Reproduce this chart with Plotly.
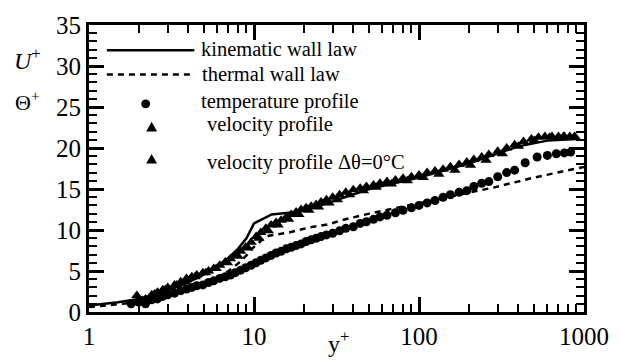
import plotly.graph_objects as go

# ---------------- data ----------------
kin_y = [1, 1.5, 2, 3, 4, 5, 6, 7, 8, 9, 10, 12.8, 20, 30, 50, 100, 200, 400, 600, 900]
kin_u = [0.8, 1.2, 1.6, 2.6, 3.6, 4.6, 5.6, 6.6, 7.7, 9.0, 10.8, 11.9, 12.3, 13.5, 15.0, 16.4, 18.1, 20.2, 20.9, 21.1]

th_y = [1, 2, 3, 4, 5, 6, 7, 8, 9, 9.7, 11.2, 12.3, 16.3, 21.5, 28.4, 34, 50, 100, 200, 286, 500, 823, 1000]
th_t = [0.6, 1.2, 2.0, 2.7, 3.4, 4.2, 5.0, 5.9, 6.9, 7.7, 8.8, 9.3, 9.7, 10.3, 10.7, 11.2, 12.0, 13.3, 14.6, 15.2, 16.4, 17.4, 17.7]

temp_y = [1.8, 2.0, 2.2, 2.4, 2.6, 2.8, 3.0, 3.3, 3.6, 3.9, 4.2, 4.5, 4.9, 5.3, 5.7, 6.2, 6.7,
          7.2, 7.7, 8.3, 8.9, 9.6, 10.3, 11.0, 11.8, 12.7, 13.6, 14.6, 15.7, 16.8, 18.0, 19.3,
          20.7, 22.2, 23.8, 25.5, 27.5, 30, 33, 36, 40, 44, 48, 53, 58, 64, 72, 80, 90, 100,
          112, 125, 140, 155, 175, 195, 215, 240, 265, 300, 340, 380, 440, 520, 600, 680, 760, 830]
temp_t = [1.0, 1.2, 1.0, 1.5, 1.6, 1.9, 2.1, 2.3, 2.6, 2.8, 3.0, 3.2, 3.3, 3.6, 3.8, 4.1, 4.3,
          4.5, 4.8, 5.1, 5.4, 5.7, 6.0, 6.3, 6.6, 6.9, 7.2, 7.4, 7.7, 7.9, 8.1, 8.3,
          8.6, 8.8, 9.0, 9.2, 9.4, 9.6, 9.9, 10.2, 10.4, 10.8, 11.0, 11.3, 11.6, 11.8, 12.1, 12.4, 12.7, 13.0,
          13.3, 13.6, 14.0, 14.3, 14.6, 14.8, 15.3, 15.7, 15.9, 16.5, 17.0, 17.3, 18.2, 18.9, 19.1, 19.3, 19.4, 19.5]

vel_y = [1.95, 2.0, 2.2, 2.4, 2.6, 2.8, 3.0, 3.3, 3.6, 3.9, 4.2, 4.5, 4.9, 5.3, 5.7, 6.2, 6.7,
         7.2, 7.7, 8.3, 8.9, 9.6, 10.3, 11.0, 11.8, 12.7, 13.6, 14.6, 15.7, 16.8, 18.0, 19.3,
         20.7, 22.2, 23.8, 25.5, 27.5, 30, 33, 36, 40, 44, 48, 53, 58, 64, 72, 80, 90, 100,
         112, 125, 140, 155, 175, 195, 215, 240, 265, 300, 340, 380, 430, 480, 530, 580, 640, 700, 760, 820, 870]
vel_u = [2.0, 1.3, 1.6, 2.1, 2.4, 2.7, 3.0, 3.3, 3.7, 4.1, 4.3, 4.5, 4.8, 5.0, 5.3, 5.7, 6.1,
         6.5, 6.9, 7.4, 7.9, 8.5, 9.2, 9.7, 10.2, 10.6, 10.9, 11.2, 11.6, 11.9, 12.2, 12.5,
         12.7, 12.9, 13.1, 13.4, 13.7, 14.0, 14.3, 14.6, 14.9, 15.1, 15.3, 15.5, 15.7, 15.9, 16.1, 16.3, 16.5, 16.7,
         17.0, 17.2, 17.4, 17.7, 18.0, 18.3, 18.6, 18.9, 19.2, 19.6, 20.0, 20.4, 20.8, 21.1, 21.3, 21.4, 21.4, 21.4, 21.4, 21.4, 21.3]

vel0_y = [2.1, 2.5, 2.9, 3.4, 3.8, 4.4, 5.1, 5.9, 6.9, 8.0, 9.2, 10.7, 12.2, 14.0, 16.2, 18.7,
          21.5, 24.6, 28.5, 32, 38, 46, 55, 68, 85, 106, 132, 165, 205, 255, 320, 400, 500, 620, 750, 880]
vel0_u = [1.4, 2.2, 2.7, 3.3, 3.7, 4.3, 4.8, 5.3, 6.0, 6.8, 7.8, 9.0, 9.9, 10.6, 11.3, 11.9,
          12.4, 12.8, 13.3, 13.7, 14.3, 14.8, 15.2, 15.6, 16.0, 16.4, 16.8, 17.3, 17.9, 18.5, 19.3, 20.2, 20.9, 21.3, 21.4, 21.4]

legend_labels = ["kinematic wall law", "thermal wall law", "temperature profile",
                 "velocity profile", "velocity profile \u0394\u03b8=0\u00b0C"]

# ---------------- layout helpers ----------------
W, H = 621, 362
L, R, T, B = 89, 587, 22, 317


def px(x):
    return (x - L) / (R - L)


def py(y):
    return (B - y) / (B - T)


FONT = "Liberation Serif"

fig = go.Figure()
fig.add_trace(go.Scatter(x=kin_y, y=kin_u, mode="lines", line=dict(color="black", width=2.5)))
fig.add_trace(go.Scatter(x=th_y, y=th_t, mode="lines",
                         line=dict(color="black", width=2.5, dash="6px,5px")))
fig.add_trace(go.Scatter(x=temp_y, y=temp_t, mode="markers",
                         marker=dict(symbol="circle", size=9, color="black")))
fig.add_trace(go.Scatter(x=vel_y, y=vel_u, mode="markers",
                         marker=dict(symbol="triangle-up", size=10, color="black")))
fig.add_trace(go.Scatter(x=vel0_y, y=vel0_u, mode="markers",
                         marker=dict(symbol="triangle-up", size=10, color="black")))

axis_common = dict(showline=True, linewidth=3, linecolor="black", mirror="allticks",
                   ticks="inside", ticklen=15, tickwidth=2.5, tickcolor="black",
                   showgrid=False, zeroline=False,
                   tickfont=dict(family=FONT, size=25, color="black"))

fig.update_xaxes(type="log", range=[0, 3], tickvals=[1, 10, 100, 1000],
                 ticktext=["1", "10", "100", "1000"],
                 minor=dict(ticks="inside", ticklen=8, tickwidth=2, tickcolor="black",
                            dtick="D1", showgrid=False),
                 **axis_common)
fig.update_yaxes(range=[0, 35], dtick=5,
                 minor=dict(ticks="inside", ticklen=8, tickwidth=2, tickcolor="black",
                            dtick=1, showgrid=False),
                 **axis_common)

annotations = []
shapes = []
# legend lines
shapes.append(dict(type="line", xref="paper", yref="paper", x0=px(107), x1=px(195),
                   y0=py(48), y1=py(48), line=dict(color="black", width=2.5)))
shapes.append(dict(type="line", xref="paper", yref="paper", x0=px(107), x1=px(195),
                   y0=py(73), y1=py(73), line=dict(color="black", width=2.5, dash="6px,5px")))
# legend markers (sample symbols)
shapes.append(dict(type="circle", xref="paper", yref="paper",
                   x0=px(141.5), x1=px(150.5), y0=py(107.5), y1=py(98.5),
                   fillcolor="black", line=dict(color="black", width=0)))


def tri(cx, cy, s=5.5):
    return (f"M {px(cx - s)} {py(cy + s * 0.8)} L {px(cx + s)} {py(cy + s * 0.8)} "
            f"L {px(cx)} {py(cy - s)} Z")


for cx, cy in [(152, 127), (152, 160)]:
    shapes.append(dict(type="path", xref="paper", yref="paper", path=tri(cx, cy),
                       fillcolor="black", line=dict(color="black", width=0)))

leg_pos = [(200, 47), (201, 72), (200, 101), (206, 124), (206, 163)]
for (lx, ly), lab in zip(leg_pos, legend_labels):
    annotations.append(dict(x=px(lx), y=py(ly), text=lab, showarrow=False, xref="paper",
                            yref="paper", xanchor="left", yanchor="middle",
                            font=dict(family=FONT, size=20.5, color="black")))
# axis titles
annotations.append(dict(x=px(12), y=py(57), text="<i>U</i><sup>+</sup>", showarrow=False,
                        xref="paper", yref="paper", xanchor="left", yanchor="middle",
                        font=dict(family=FONT, size=24, color="black")))
annotations.append(dict(x=px(13), y=py(100), text="\u0398<sup>+</sup>", showarrow=False,
                        xref="paper", yref="paper", xanchor="left", yanchor="middle",
                        font=dict(family=FONT, size=22, color="black")))
annotations.append(dict(x=px(340), y=py(348), text="y<sup>+</sup>", showarrow=False,
                        xref="paper", yref="paper", xanchor="center", yanchor="middle",
                        font=dict(family=FONT, size=24, color="black")))

fig.update_layout(width=W, height=H, margin=dict(l=L, r=W - R, t=T, b=H - B),
                  paper_bgcolor="white", plot_bgcolor="white", showlegend=False,
                  font=dict(family=FONT, color="black"),
                  shapes=shapes, annotations=annotations)

fig.write_html("out.html")
